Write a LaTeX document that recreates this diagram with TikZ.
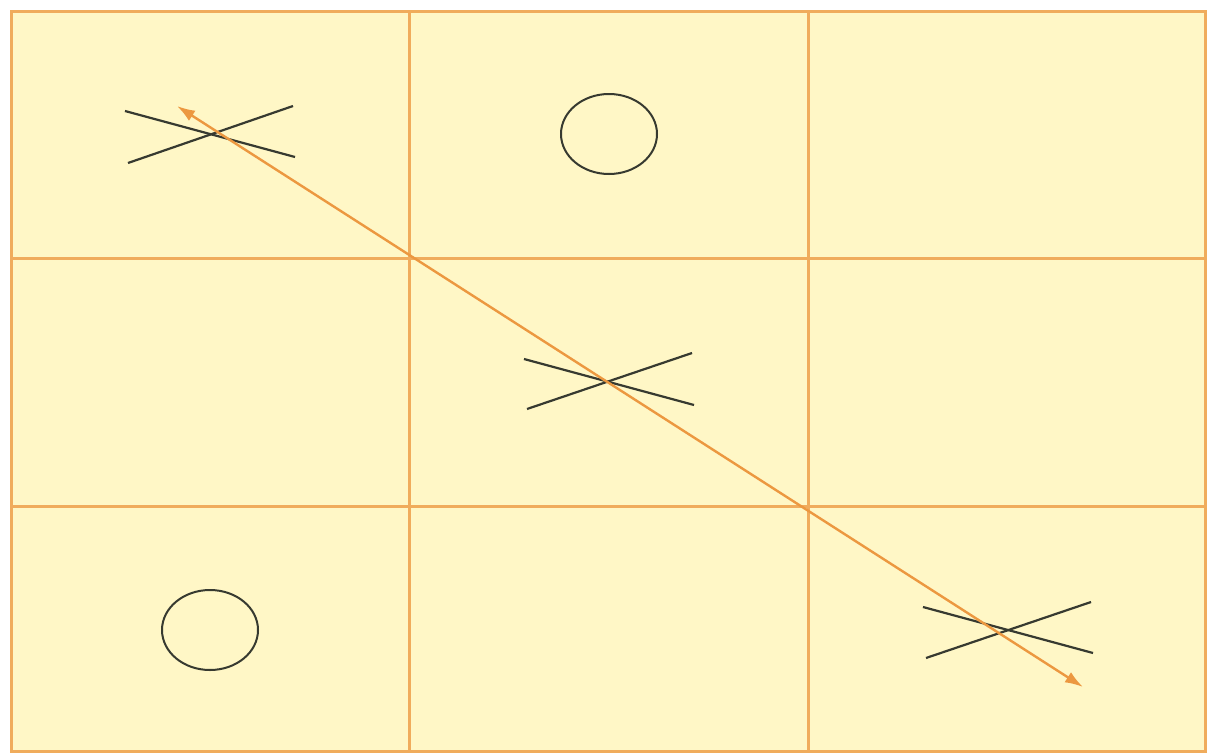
\documentclass[tikz,border=0pt]{standalone}
\usetikzlibrary{arrows.meta,shapes.geometric}
\definecolor{cellfill}{RGB}{255,247,198}
\definecolor{gridorange}{RGB}{240,172,92}
\definecolor{arroworange}{RGB}{236,152,64}
\definecolor{markdark}{RGB}{55,58,48}
\tikzset{
  gridline/.style={draw=gridorange,line width=3pt},
  xline/.style={draw=markdark,line width=2.2pt},
  omark/.style={ellipse,draw=markdark,line width=2pt,minimum width=96pt,minimum height=80pt,inner sep=0pt},
  winline/.style={draw=arroworange,line width=2.4pt,{Latex[length=18pt,width=12pt]}-{Latex[length=18pt,width=12pt]}}
}
\begin{document}
\begin{tikzpicture}[x=1pt,y=-1pt]
\useasboundingbox (0,0) rectangle (1207,755);
% board
\fill[cellfill] (11,11) rectangle (1205,751);
\draw[gridline] (409,11) -- (409,751);
\draw[gridline] (808,11) -- (808,751);
\draw[gridline] (11,258) -- (1205,258);
\draw[gridline] (11,506) -- (1205,506);
\draw[gridline] (11,11) rectangle (1205,751);
% O marks
\node[omark] (o1) at (609,134) {};
\node[omark] (o2) at (210,630) {};
% X marks
\coordinate (x1a) at (125,111); \coordinate (x1b) at (295,157);
\coordinate (x1c) at (128,163); \coordinate (x1d) at (293,106);
\draw[xline] (x1a) -- (x1b);
\draw[xline] (x1c) -- (x1d);
\coordinate (x2a) at (524,359); \coordinate (x2b) at (694,405);
\coordinate (x2c) at (527,409); \coordinate (x2d) at (692,353);
\draw[xline] (x2a) -- (x2b);
\draw[xline] (x2c) -- (x2d);
\coordinate (x3a) at (923,607); \coordinate (x3b) at (1093,653);
\coordinate (x3c) at (926,658); \coordinate (x3d) at (1091,602);
\draw[xline] (x3a) -- (x3b);
\draw[xline] (x3c) -- (x3d);
% winning line
\coordinate (wstart) at (177,106);
\coordinate (wend) at (1083,687);
\draw[winline] (wstart) -- (wend);
\end{tikzpicture}
\end{document}
